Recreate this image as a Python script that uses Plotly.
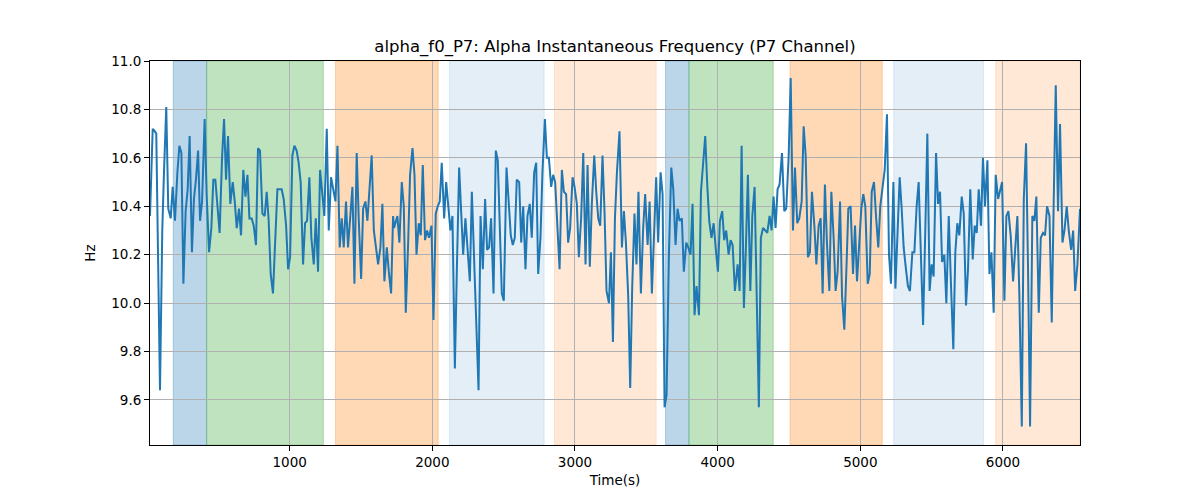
import plotly.graph_objects as go

# ---- data ----
time_s = [
    21, 40, 54, 65, 91, 107, 119, 135, 149, 166, 180, 196, 213, 227, 241, 255, 271, 285, 299, 315,
    329, 343, 358, 372, 386, 404, 418, 435, 451, 465, 479, 493, 509, 526, 540, 554, 568, 584, 601, 615,
    629, 645, 659, 675, 690, 704, 718, 734, 748, 764, 778, 792, 809, 825, 839,
    853, 867, 883, 900, 914, 930, 944, 958, 975, 989, 1003, 1019, 1033, 1049, 1063, 1077, 1094, 1108, 1122, 1138,
    1152, 1169, 1183, 1199, 1213, 1229, 1243, 1260, 1274, 1290, 1304, 1321, 1335, 1351, 1365, 1379, 1395, 1409, 1424, 1440,
    1454, 1470, 1484, 1501, 1515, 1531, 1545, 1559, 1575, 1590, 1606, 1620, 1636, 1650,
    1664, 1681, 1695, 1711, 1725, 1732, 1741, 1755, 1769, 1786, 1800, 1814, 1830, 1844, 1861, 1875, 1889, 1905, 1919, 1933,
    1949, 1963, 1977, 1994, 2008, 2024, 2038, 2052, 2066, 2083, 2097, 2111, 2127, 2141, 2158, 2172, 2188, 2202, 2216, 2232,
    2246, 2263, 2277, 2293, 2309, 2324, 2338, 2354, 2370, 2384, 2398, 2412, 2429, 2445, 2459, 2473,
    2487, 2501, 2520, 2534, 2550, 2564, 2578, 2592, 2609, 2623, 2637, 2653, 2667, 2683, 2697, 2714, 2728, 2742, 2758, 2772,
    2789, 2803, 2817, 2833, 2847, 2861, 2877, 2892, 2908, 2922, 2938, 2952, 2966, 2983, 2997, 3013, 3027, 3043, 3058, 3074,
    3088, 3104, 3118, 3135, 3149, 3163, 3177, 3193, 3207, 3221, 3238, 3252, 3266, 3280, 3294,
    3312, 3329, 3343, 3357, 3373, 3387, 3401, 3417, 3431, 3445, 3462, 3478, 3492, 3509, 3523, 3539, 3553, 3569, 3583, 3600,
    3614, 3628, 3642, 3658, 3675, 3689, 3705, 3719, 3733, 3749, 3763, 3780, 3794, 3810, 3824, 3838, 3852, 3869, 3883, 3897,
    3913, 3927, 3941, 3957, 3972, 3986, 4002, 4016, 4032, 4046, 4060, 4077, 4091, 4105, 4121,
    4140, 4154, 4168, 4184, 4198, 4212, 4229, 4243, 4259, 4273, 4289, 4303, 4318, 4334, 4348, 4364, 4378, 4392, 4406, 4420,
    4434, 4451, 4467, 4481, 4498, 4512, 4528, 4542, 4558, 4572, 4589, 4603, 4617, 4633, 4647, 4661, 4678, 4692, 4708, 4722,
    4736, 4752, 4766, 4783, 4797, 4813, 4827, 4841, 4858, 4872, 4888, 4902, 4916, 4932,
    4949, 4963, 4977, 4991, 5007, 5021, 5035, 5052, 5066, 5080, 5096, 5110, 5126, 5140, 5154, 5171, 5187, 5201, 5215, 5232,
    5246, 5260, 5276, 5290, 5304, 5320, 5334, 5348, 5365, 5379, 5395, 5409, 5426, 5440, 5456, 5470, 5486, 5500, 5514, 5531,
    5545, 5559, 5573, 5589, 5603, 5620, 5636, 5652, 5666, 5680, 5694, 5711, 5725, 5741, 5755,
    5771, 5788, 5802, 5816, 5830, 5846, 5860, 5874, 5891, 5905, 5919, 5935, 5949, 5966, 5980, 5994, 6010, 6024, 6038, 6054,
    6071, 6085, 6101, 6115, 6132, 6146, 6162, 6176, 6190, 6206, 6220, 6234, 6251, 6265, 6281, 6295, 6309, 6326, 6342, 6356,
    6370, 6386, 6400, 6417, 6431, 6447, 6461, 6478, 6492, 6506, 6522, 6540,
]

alpha_hz = [
    10.36, 10.72, 10.71, 10.70, 9.64, 10.30, 10.54, 10.81, 10.39, 10.35, 10.48, 10.34, 10.54, 10.65, 10.62, 10.08, 10.38, 10.47, 10.69, 10.21,
    10.43, 10.51, 10.63, 10.34, 10.42, 10.76, 10.45, 10.21, 10.31, 10.51, 10.51, 10.42, 10.29, 10.60, 10.76, 10.51, 10.69, 10.41, 10.50, 10.42,
    10.31, 10.39, 10.28, 10.55, 10.44, 10.53, 10.35, 10.35, 10.32, 10.24, 10.64, 10.63, 10.37, 10.36, 10.46,
    10.34, 10.12, 10.04, 10.28, 10.47, 10.47, 10.47, 10.43, 10.32, 10.14, 10.19, 10.61, 10.65, 10.63, 10.58, 10.50, 10.16, 10.33, 10.34, 10.52,
    10.27, 10.16, 10.35, 10.13, 10.55, 10.45, 10.36, 10.72, 10.30, 10.52, 10.48, 10.42, 10.65, 10.23, 10.35, 10.23, 10.42, 10.23, 10.35, 10.48,
    10.08, 10.62, 10.35, 10.10, 10.39, 10.42, 10.34, 10.47, 10.61, 10.30, 10.22, 10.16, 10.23, 10.41,
    10.09, 10.23, 10.13, 10.04, 10.36, 10.31, 10.33, 10.36, 10.25, 10.50, 10.40, 9.96, 10.24, 10.53, 10.64, 10.53, 10.20, 10.33, 10.28, 10.57,
    10.26, 10.30, 10.27, 10.32, 9.93, 10.37, 10.40, 10.42, 10.58, 10.35, 10.50, 10.41, 10.30, 10.36, 9.73, 10.14, 10.56, 10.38, 10.20, 10.35,
    10.24, 10.09, 10.46, 10.16, 9.87, 9.64, 10.36, 10.14, 10.43, 10.22, 10.23, 10.35, 10.04, 10.63, 10.59, 10.32,
    10.04, 10.01, 10.56, 10.43, 10.28, 10.24, 10.27, 10.51, 10.50, 10.25, 10.40, 10.14, 10.36, 10.41, 10.27, 10.54, 10.58, 10.12, 10.27, 10.54,
    10.76, 10.60, 10.60, 10.48, 10.53, 10.50, 10.28, 10.14, 10.55, 10.46, 10.45, 10.25, 10.31, 10.52, 10.48, 10.41, 10.19, 10.35, 10.62, 10.16,
    10.57, 10.15, 10.41, 10.61, 10.46, 10.35, 10.32, 10.61, 10.38, 10.05, 10.00, 10.21, 9.84, 10.35, 10.54,
    10.71, 10.23, 10.38, 10.25, 10.03, 9.65, 10.06, 10.37, 10.16, 10.46, 10.04, 10.31, 10.45, 10.24, 10.42, 10.04, 10.31, 10.52, 10.25, 10.54,
    10.45, 9.57, 9.62, 10.19, 10.56, 10.47, 10.24, 10.39, 10.34, 10.35, 10.13, 10.25, 10.23, 10.20, 10.41, 9.95, 10.07, 9.95, 10.46, 10.58,
    10.69, 10.49, 10.34, 10.27, 10.33, 10.23, 10.13, 10.34, 10.38, 10.26, 10.30, 10.20, 10.26, 10.24, 10.05,
    10.16, 10.05, 10.65, 9.98, 10.23, 10.53, 10.05, 10.36, 10.48, 10.06, 9.57, 10.27, 10.31, 10.30, 10.29, 10.36, 10.30, 10.44, 10.31, 10.47,
    10.49, 10.62, 10.38, 10.39, 10.61, 10.93, 10.30, 10.56, 10.33, 10.35, 10.42, 10.73, 10.61, 10.19, 10.21, 10.46, 10.32, 10.16, 10.32, 10.35,
    10.04, 10.49, 10.25, 10.05, 10.46, 10.27, 10.05, 10.13, 10.42, 10.03, 9.89, 10.13, 10.39, 10.40,
    10.12, 10.32, 10.09, 10.23, 10.39, 10.45, 10.40, 10.08, 10.12, 10.46, 10.50, 10.36, 10.23, 10.40, 10.47, 10.55, 10.78, 10.20, 10.08, 10.50,
    10.06, 10.26, 10.52, 10.39, 10.23, 10.14, 10.07, 10.05, 10.21, 10.21, 10.40, 10.50, 10.20, 9.91, 10.31, 10.70, 10.05, 10.16, 10.11, 10.62,
    10.41, 10.46, 10.17, 10.20, 10.00, 10.36, 10.07, 9.81, 10.21, 10.33, 10.28, 10.44, 10.37, 9.99, 10.14,
    10.47, 10.18, 10.32, 10.29, 10.47, 10.32, 10.60, 10.40, 10.59, 10.12, 10.21, 9.96, 10.53, 10.43, 10.47, 10.50, 10.01, 10.36, 10.38, 10.28,
    10.09, 10.24, 10.36, 10.03, 9.49, 10.43, 10.66, 10.13, 9.49, 10.36, 10.34, 10.44, 9.96, 10.27, 10.29, 10.28, 10.40, 10.36, 9.92, 10.43,
    10.90, 10.38, 10.74, 10.25, 10.30, 10.40, 10.30, 10.22, 10.30, 10.05, 10.16, 10.39,
]

# shaded segments (start, end, colour, opacity)
span_start = [184, 418, 1321, 2120, 2856, 3635, 3799, 4507, 5234, 5949]
span_end = [418, 1236, 2041, 2784, 3569, 3799, 4390, 5154, 5863, 6540]
span_rgb = ["31,119,180", "44,160,44", "255,127,14", "31,119,180", "255,127,14",
            "31,119,180", "44,160,44", "255,127,14", "31,119,180", "255,127,14"]
span_alpha = [0.3, 0.3, 0.3, 0.12, 0.17, 0.3, 0.3, 0.3, 0.12, 0.17]

x_ticks = [1000, 2000, 3000, 4000, 5000, 6000]
y_ticks = [9.6, 9.8, 10.0, 10.2, 10.4, 10.6, 10.8, 11.0]

fig = go.Figure()

for s, e, rgb, a in zip(span_start, span_end, span_rgb, span_alpha):
    fig.add_vrect(
        x0=s, x1=e, layer="below",
        fillcolor=f"rgba({rgb},{a})",
        line=dict(color=f"rgba({rgb},{a})", width=1),
    )

fig.add_trace(go.Scatter(
    x=time_s, y=alpha_hz, mode="lines",
    line=dict(color="#1f77b4", width=2),
    hoverinfo="x+y", showlegend=False,
))

axis_common = dict(
    showgrid=True, gridcolor="#b0b0b0", gridwidth=0.8,
    showline=True, linecolor="black", linewidth=1, mirror=True,
    ticks="outside", ticklen=5, tickwidth=1, tickcolor="black",
    zeroline=False,
    tickfont=dict(family="DejaVu Sans", size=13.5, color="black"),
)

fig.update_xaxes(
    range=[time_s[0], time_s[-1]], tickmode="array", tickvals=x_ticks,
    title=dict(text="Time(s)", standoff=6, font=dict(family="DejaVu Sans", size=13.5)),
    **axis_common,
)
fig.update_yaxes(
    range=[9.414, 11.0], tickmode="array", tickvals=y_ticks, tickformat=".1f",
    title=dict(text="Hz", standoff=12, font=dict(family="DejaVu Sans", size=13.5)),
    **axis_common,
)

fig.update_layout(
    width=1200, height=500,
    margin=dict(l=142, r=128, t=53, b=63),
    plot_bgcolor="white", paper_bgcolor="white",
    font=dict(family="DejaVu Sans", size=13.5, color="black"),
    title=dict(
        text="alpha_f0_P7: Alpha Instantaneous Frequency (P7 Channel)",
        x=0.5, xref="paper", xanchor="center",
        y=1 - 38 / 500, yref="container", yanchor="middle",
        font=dict(family="DejaVu Sans", size=16.5, color="black"),
    ),
    showlegend=False,
)

fig.write_html("out.html")
